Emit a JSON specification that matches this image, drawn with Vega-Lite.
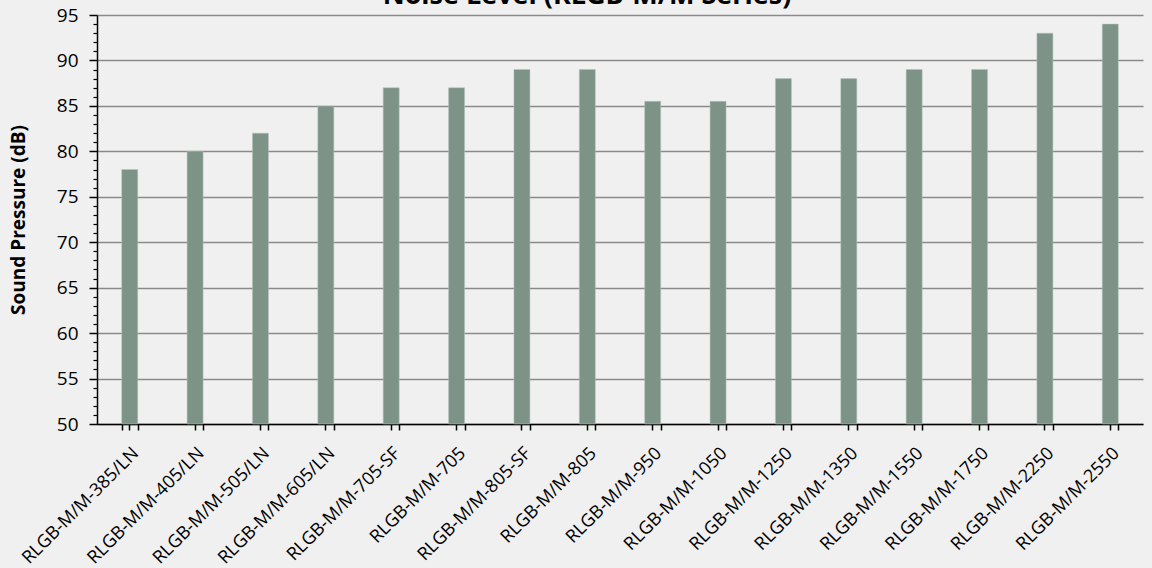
{
  "$schema": "https://vega.github.io/schema/vega-lite/v6.json",
  "width": 1046,
  "height": 409,
  "autosize": "none",
  "padding": {"left": 97, "top": 15, "right": 9, "bottom": 144},
  "background": "#F0F0F0",
  "config": {
    "view": {"stroke": null},
    "font": "Open Sans"
  },
  "title": {
    "text": "Noise Level (RLGB-M/M Series)",
    "fontSize": 27,
    "fontWeight": "bold",
    "color": "#000000",
    "offset": -4,
    "dx": -33,
    "anchor": "middle"
  },
  "data": {
    "values": [
      {"model": "RLGB-M/M-385/LN", "db": 78},
      {"model": "RLGB-M/M-405/LN", "db": 80},
      {"model": "RLGB-M/M-505/LN", "db": 82},
      {"model": "RLGB-M/M-605/LN", "db": 85},
      {"model": "RLGB-M/M-705-SF", "db": 87},
      {"model": "RLGB-M/M-705", "db": 87},
      {"model": "RLGB-M/M-805-SF", "db": 89},
      {"model": "RLGB-M/M-805", "db": 89},
      {"model": "RLGB-M/M-950", "db": 85.5},
      {"model": "RLGB-M/M-1050", "db": 85.5},
      {"model": "RLGB-M/M-1250", "db": 88},
      {"model": "RLGB-M/M-1350", "db": 88},
      {"model": "RLGB-M/M-1550", "db": 89},
      {"model": "RLGB-M/M-1750", "db": 89},
      {"model": "RLGB-M/M-2250", "db": 93},
      {"model": "RLGB-M/M-2550", "db": 94}
    ]
  },
  "layer": [
    {
      "mark": {"type": "bar", "color": "#7D9388", "stroke": "#B5C4BC", "strokeWidth": 0.5},
      "encoding": {
        "x": {
          "field": "model",
          "type": "nominal",
          "sort": null,
          "scale": {"paddingInner": 0.755, "paddingOuter": 0.378},
          "axis": {
            "title": null,
            "labelAngle": -45,
            "labelFontSize": 18,
            "labelColor": "#000000",
            "labelPadding": 14,
            "domainColor": "#000000",
            "domainWidth": 1.5,
            "tickColor": "#000000",
            "tickWidth": 1.5,
            "tickSize": 6
          }
        },
        "y": {
          "field": "db",
          "type": "quantitative",
          "scale": {"domain": [50, 95], "zero": false, "nice": false},
          "axis": {
            "title": "Sound Pressure (dB)",
            "titleFontSize": 19,
            "titleFontWeight": "bold",
            "titleColor": "#000000",
            "titlePadding": 28,
            "values": [50, 55, 60, 65, 70, 75, 80, 85, 90, 95],
            "labelFontSize": 19,
            "labelColor": "#000000",
            "labelPadding": 11,
            "grid": true,
            "gridColor": "#8A8A8A",
            "gridWidth": 1.5,
            "domainColor": "#000000",
            "domainWidth": 1.5,
            "tickColor": "#000000",
            "tickWidth": 1.5,
            "tickSize": 8
          }
        },
        "y2": {"datum": 50}
      }
    },
    {
      "mark": {"type": "tick", "opacity": 0},
      "encoding": {
        "x": {
          "field": "model",
          "type": "nominal",
          "sort": null,
          "axis": {
            "orient": "bottom",
            "title": null,
            "labels": false,
            "tickBand": "extent",
            "domain": false,
            "tickColor": "#000000",
            "tickWidth": 1.5,
            "tickSize": 6
          }
        },
        "y": {
          "field": "db",
          "type": "quantitative",
          "axis": {
            "orient": "left",
            "title": null,
            "labels": false,
            "grid": false,
            "domain": false,
            "values": [51,52,53,54,56,57,58,59,61,62,63,64,66,67,68,69,71,72,73,74,76,77,78,79,81,82,83,84,86,87,88,89,91,92,93,94],
            "tickColor": "#000000",
            "tickWidth": 1.2,
            "tickSize": 4
          }
        }
      }
    }
  ],
  "resolve": {"axis": {"x": "independent", "y": "independent"}}
}
